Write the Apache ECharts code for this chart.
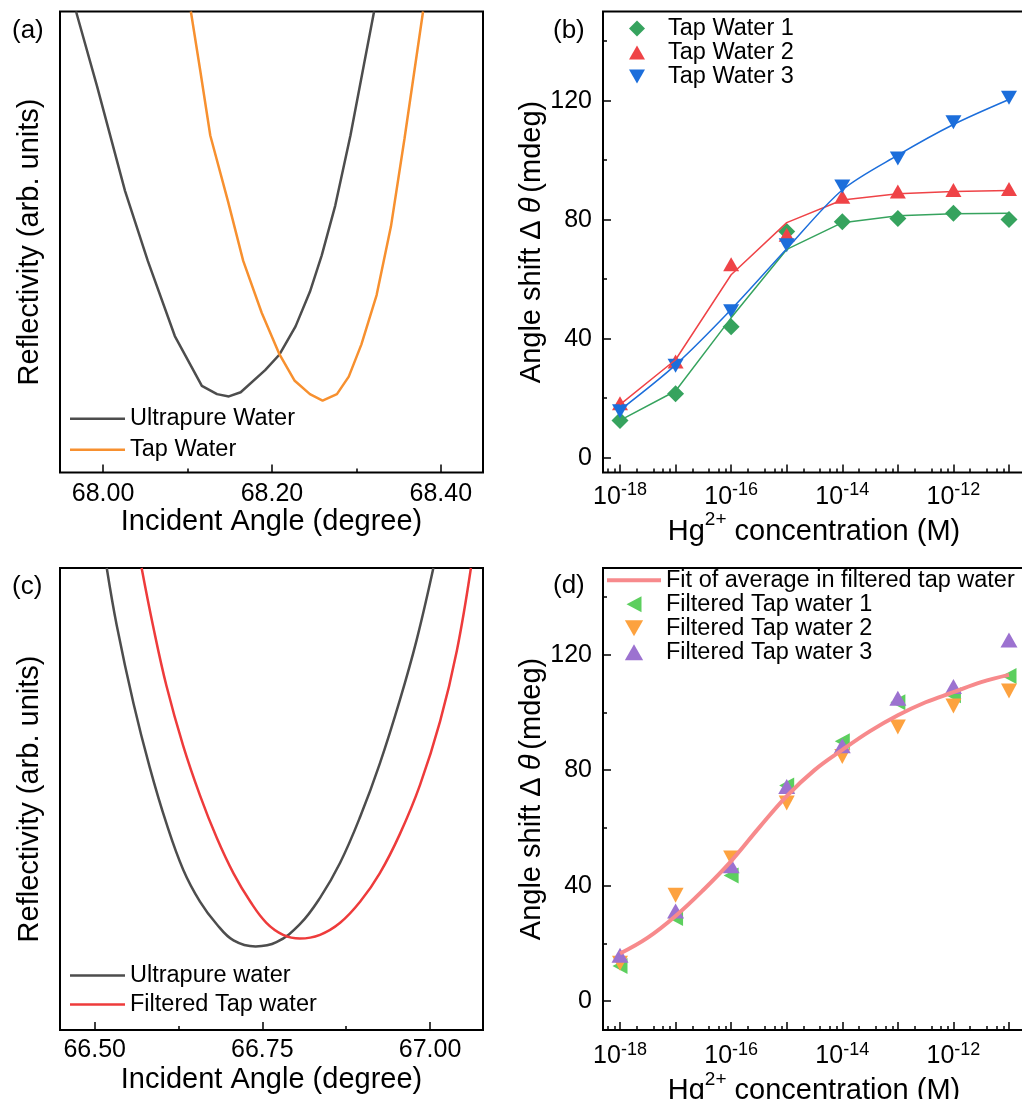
<!DOCTYPE html>
<html>
<head>
<meta charset="utf-8">
<script src="https://cdn.jsdelivr.net/npm/echarts@6/dist/echarts.min.js"></script>
<style>
  html, body { margin: 0; padding: 0; background: #ffffff; }
  #chart { width: 1022px; height: 1099px; }
</style>
</head>
<body>
<div id="chart"></div>
<script>
// ---------- (a) SPR curves: ultrapure vs tap water ----------
const ultrapureAngleA = [67.968, 67.993, 68.026, 68.053, 68.085, 68.117, 68.135, 68.149, 68.163, 68.192, 68.209, 68.228, 68.245, 68.259, 68.275, 68.293, 68.309, 68.321];
const ultrapureReflA  = [1.000, 0.837, 0.611, 0.459, 0.296, 0.188, 0.170, 0.165, 0.174, 0.222, 0.256, 0.317, 0.392, 0.471, 0.579, 0.731, 0.885, 1.000];
const tapAngleA = [68.104, 68.115, 68.127, 68.148, 68.166, 68.188, 68.209, 68.227, 68.245, 68.260, 68.277, 68.291, 68.306, 68.324, 68.341, 68.357, 68.379];
const tapReflA  = [1.000, 0.873, 0.731, 0.588, 0.459, 0.346, 0.256, 0.199, 0.170, 0.156, 0.170, 0.208, 0.278, 0.385, 0.534, 0.724, 1.000];
const angleTicksA = [68.0, 68.2, 68.4];
const angleMinorA = [68.1, 68.3];

// ---------- (b) angle shift vs Hg2+ concentration in tap water ----------
const concentrations = [1e-18, 1e-17, 1e-16, 1e-15, 1e-14, 1e-13, 1e-12, 1e-11];
const tapWater1 = [12.5, 21.5, 44.0, 76.0, 79.3, 80.4, 82.2, 80.1];
const tapWater2 = [18.3, 32.3, 65.0, 74.9, 87.7, 89.5, 90.0, 90.3];
const tapWater3 = [15.6, 30.9, 49.2, 71.4, 91.2, 100.6, 112.8, 121.0];
const tapWater1Fit = [12.5, 22.4, 47.0, 70.0, 79.0, 81.3, 82.0, 82.2];
const tapWater2Fit = [17.8, 32.9, 61.5, 79.0, 86.6, 88.7, 89.5, 89.8];
const tapWater3Fit = [16.0, 31.2, 49.8, 70.2, 90.0, 101.7, 112.0, 120.4];

// ---------- (c) SPR curves: ultrapure vs filtered tap water ----------
const ultrapureAngleC = [66.518, 66.533, 66.558, 66.582, 66.607, 66.632, 66.657, 66.682, 66.707, 66.740, 66.771, 66.806, 66.836, 66.866, 66.896, 66.925, 66.955, 66.980, 67.005];
const ultrapureReflC  = [1.000, 0.875, 0.706, 0.569, 0.447, 0.347, 0.278, 0.229, 0.194, 0.181, 0.190, 0.229, 0.286, 0.362, 0.462, 0.576, 0.714, 0.844, 1.000];
const filteredAngleC = [66.570, 66.587, 66.607, 66.632, 66.657, 66.682, 66.707, 66.732, 66.756, 66.781, 66.806, 66.836, 66.866, 66.896, 66.925, 66.955, 66.985, 67.015, 67.040, 67.061];
const filteredReflC  = [1.000, 0.875, 0.745, 0.615, 0.508, 0.416, 0.339, 0.278, 0.232, 0.206, 0.198, 0.206, 0.232, 0.278, 0.339, 0.424, 0.530, 0.668, 0.821, 1.000];
const angleTicksC = [66.5, 66.75, 67.0];
const angleMinorC = [66.625, 66.875];

// ---------- (d) angle shift vs Hg2+ concentration in filtered tap water ----------
const filteredTap1 = [12.2, 28.8, 43.5, 74.7, 90.0, 103.5, 105.9, 112.6];
const filteredTap2 = [13.1, 36.7, 49.6, 68.6, 84.7, 94.9, 102.2, 107.4];
const filteredTap3 = [15.9, 31.2, 46.9, 74.3, 88.4, 104.9, 109.0, 125.1];
const fitConcentrations = [1e-18, 3.16e-18, 1e-17, 3.16e-17, 1e-16, 3.16e-16, 1e-15, 3.16e-15, 1e-14, 3.16e-14, 1e-13, 3.16e-13, 1e-12, 3.16e-12, 1e-11];
const fitAverage = [16.5, 22.0, 29.5, 38.5, 48.5, 60.0, 71.0, 80.0, 87.0, 93.5, 99.0, 103.5, 107.0, 110.5, 113.0];

// shared tick values
const concLabelValues = [1e-18, 1e-16, 1e-14, 1e-12];
const shiftTicks = [0, 40, 80, 120];
const shiftMinor = [20, 60, 100, 140];

// ---------- styling ----------
const FONT = '"Liberation Sans", Arial, Helvetica, sans-serif';
const BLACK = '#000000';
const GRAY = '#4d4d4d';
const ORANGE = '#f7902f';
const RED_C = '#ee3b3b';
const GREEN_B = '#36a35e';
const RED_B = '#ef4347';
const BLUE_B = '#1c6edb';
const FIT_D = '#f78a8c';
const GREEN_D = '#5ccf5e';
const ORANGE_D = '#fda23f';
const PURPLE_D = '#9c72d0';

// legend glyphs (fixed aspect, centred in the legend item box)
const ICON_LINE = 'path://M0,0 L55,0 L55,2.5 L0,2.5 Z';
const ICON_FIT = 'path://M0,0 L54,0 L54,4 L0,4 Z';
const ICON_DIAMOND = 'path://M8,0 L16,8 L8,16 L0,8 Z';
const ICON_UP = 'path://M8,0 L16,14 L0,14 Z';
const ICON_DOWN = 'path://M0,0 L16,0 L8,14 Z';
const ICON_LEFT = 'path://M0,8 L15,0 L15,16 Z';

const concMin = Math.pow(10, -18.306);
const concMax = Math.pow(10, -10.712);
const concMinorValues = [];
for (let e = -19; e <= -11; e++) {
  [2, 4, 6, 8].forEach(m => concMinorValues.push(m * Math.pow(10, e)));
}

function pairs(xs, ys) { return xs.map((x, i) => [x, ys[i]]); }

const tickLine = { color: BLACK, width: 1.5 };
const LABEL_SIZE = 25;
const NAME_SIZE = 29;
const supRich = {
  b: { fontSize: LABEL_SIZE, lineHeight: 28, verticalAlign: 'bottom', fontFamily: FONT, color: BLACK },
  s: { fontSize: 18, lineHeight: 12, verticalAlign: 'top', fontFamily: FONT, color: BLACK }
};
const noLine = { show: false, onZero: false };

function angleAxis(grid, min, max, labels, margin) {
  return {
    type: 'value', gridIndex: grid, min: min, max: max, position: 'bottom',
    name: 'Incident Angle (degree)', nameLocation: 'middle', nameGap: 35,
    nameTextStyle: { fontSize: NAME_SIZE, fontFamily: FONT, color: BLACK },
    axisLine: noLine,
    splitLine: { show: false },
    axisTick: { show: true, inside: true, length: 8, lineStyle: tickLine, customValues: labels },
    axisLabel: { show: true, margin: margin, fontSize: LABEL_SIZE, fontFamily: FONT, color: BLACK,
                 customValues: labels, formatter: v => v.toFixed(2) }
  };
}
function minorAxis(grid, type, min, max, values, position) {
  return {
    type: type, gridIndex: grid, min: min, max: max, position: position,
    axisLine: noLine, splitLine: { show: false }, axisLabel: { show: false },
    axisTick: { show: true, inside: true, length: 4, lineStyle: tickLine, customValues: values }
  };
}
function concAxis(grid, margin, gap) {
  return {
    type: 'log', logBase: 10, gridIndex: grid, min: concMin, max: concMax, position: 'bottom',
    name: '{n|Hg}{p|2+}{n| concentration (M)}', nameLocation: 'middle', nameGap: gap,
    nameTextStyle: {
      fontSize: NAME_SIZE, fontFamily: FONT, color: BLACK,
      rich: {
        n: { fontSize: NAME_SIZE, lineHeight: 36, verticalAlign: 'bottom', fontFamily: FONT, color: BLACK },
        p: { fontSize: 19, lineHeight: 12, verticalAlign: 'top', fontFamily: FONT, color: BLACK }
      }
    },
    axisLine: noLine,
    splitLine: { show: false },
    axisTick: { show: true, inside: true, length: 8, lineStyle: tickLine, customValues: concentrations },
    axisLabel: {
      show: true, margin: margin, customValues: concLabelValues,
      formatter: v => '{b|10}{s|' + Math.round(Math.log10(v)) + '}',
      rich: supRich
    }
  };
}
function reflAxis(grid) {
  return {
    type: 'value', gridIndex: grid, min: 0, max: 1, position: 'left',
    name: 'Reflectivity (arb. units)', nameLocation: 'middle', nameGap: 16,
    nameTextStyle: { fontSize: NAME_SIZE, fontFamily: FONT, color: BLACK },
    axisLine: noLine, axisTick: { show: false }, axisLabel: { show: false }, splitLine: { show: false }
  };
}
function shiftAxis(grid, min, gap) {
  return {
    type: 'value', gridIndex: grid, min: min, max: 150, position: 'left',
    name: 'Angle shift Δ{t|θ}(mdeg)', nameLocation: 'middle', nameGap: gap,
    nameTextStyle: {
      fontSize: NAME_SIZE, fontFamily: FONT, color: BLACK,
      rich: { t: { fontSize: NAME_SIZE, fontStyle: 'italic', fontFamily: FONT, color: BLACK, padding: [0, 5, 0, 7] } }
    },
    axisLine: noLine, splitLine: { show: false },
    axisTick: { show: true, inside: true, length: 8, lineStyle: tickLine, customValues: shiftTicks },
    axisLabel: { show: true, margin: 11, fontSize: LABEL_SIZE, fontFamily: FONT, color: BLACK, customValues: shiftTicks }
  };
}
function gridBox(left, top, width, height) {
  return { left: left, top: top, width: width, height: height, show: true,
           borderColor: BLACK, borderWidth: 2, backgroundColor: 'transparent',
           containLabel: false, outerBoundsMode: 'none' };
}
function legendBox(left, top, gap, iw, items, textPad) {
  return {
    orient: 'vertical', left: left, top: top, padding: 0, itemGap: gap,
    itemWidth: iw, itemHeight: 16, selectedMode: false, symbolKeepAspect: true,
    data: items.map(it => ({ name: it[0], icon: it[1] })),
    textStyle: { fontSize: 23.5, lineHeight: 24, fontFamily: FONT, color: BLACK,
                 padding: [0, 0, 0, textPad || 0] }
  };
}
function panelTitle(text, left, top) {
  return { text: text, left: left, top: top, padding: 0,
           textStyle: { fontSize: 26, fontWeight: 'normal', fontFamily: FONT, color: BLACK } };
}

const option = {
  animation: false,
  backgroundColor: '#ffffff',
  title: [
    panelTitle('(a)', 12, 18),
    panelTitle('(b)', 553, 18),
    panelTitle('(c)', 12, 574),
    panelTitle('(d)', 553, 573)
  ],
  grid: [
    gridBox(60, 11.5, 423, 461),
    gridBox(603, 11.5, 422, 461),
    gridBox(60, 568, 423, 462),
    gridBox(603, 568, 422, 462)
  ],
  xAxis: [
    angleAxis(0, 67.949, 68.45, angleTicksA, 9),
    minorAxis(0, 'value', 67.949, 68.45, angleMinorA, 'bottom'),
    concAxis(1, 9, 29),
    minorAxis(1, 'log', concMin, concMax, concMinorValues, 'bottom'),
    angleAxis(2, 66.4483, 67.079, angleTicksC, 8),
    minorAxis(2, 'value', 66.4483, 67.079, angleMinorC, 'bottom'),
    concAxis(3, 11, 30),
    minorAxis(3, 'log', concMin, concMax, concMinorValues, 'bottom')
  ],
  yAxis: [
    reflAxis(0),
    shiftAxis(1, -5, 57),
    minorAxis(1, 'value', -5, 150, shiftMinor, 'left'),
    reflAxis(2),
    shiftAxis(3, -10, 56),
    minorAxis(3, 'value', -10, 150, shiftMinor, 'left')
  ],
  legend: [
    legendBox(70, 406.8, 7, 55, [['Ultrapure Water', ICON_LINE], ['Tap Water', ICON_LINE]]),
    legendBox(629, 16.5, 0, 16, [['Tap Water 1', ICON_DIAMOND], ['Tap Water 2', ICON_UP], ['Tap Water 3', ICON_DOWN]], 18),
    legendBox(70, 963.4, 5, 55, [['Ultrapure water', ICON_LINE], ['Filtered Tap water', ICON_LINE]]),
    legendBox(607, 568.3, 0, 54, [['Fit of average in filtered tap water', ICON_FIT], ['Filtered Tap water 1', ICON_LEFT],
                                 ['Filtered Tap water 2', ICON_DOWN], ['Filtered Tap water 3', ICON_UP]])
  ],
  series: [
    // (a)
    { type: 'line', name: 'Ultrapure Water', xAxisIndex: 0, yAxisIndex: 0, symbol: 'none',
      data: pairs(ultrapureAngleA, ultrapureReflA), lineStyle: { color: GRAY, width: 2.5 }, itemStyle: { color: GRAY } },
    { type: 'line', name: 'Tap Water', xAxisIndex: 0, yAxisIndex: 0, symbol: 'none',
      data: pairs(tapAngleA, tapReflA), lineStyle: { color: ORANGE, width: 2.5 }, itemStyle: { color: ORANGE } },
    // (b) fitted curves
    { type: 'line', name: 'Tap Water 1 fit', xAxisIndex: 2, yAxisIndex: 1, symbol: 'none',
      data: pairs(concentrations, tapWater1Fit), lineStyle: { color: GREEN_B, width: 1.5 }, itemStyle: { color: GREEN_B } },
    { type: 'line', name: 'Tap Water 2 fit', xAxisIndex: 2, yAxisIndex: 1, symbol: 'none',
      data: pairs(concentrations, tapWater2Fit), lineStyle: { color: RED_B, width: 1.5 }, itemStyle: { color: RED_B } },
    { type: 'line', name: 'Tap Water 3 fit', xAxisIndex: 2, yAxisIndex: 1, symbol: 'none', smooth: 0.3,
      data: pairs(concentrations, tapWater3Fit), lineStyle: { color: BLUE_B, width: 1.5 }, itemStyle: { color: BLUE_B } },
    // (b) measurements
    { type: 'scatter', name: 'Tap Water 1', xAxisIndex: 2, yAxisIndex: 1, symbol: 'diamond', symbolSize: 17,
      data: pairs(concentrations, tapWater1), itemStyle: { color: GREEN_B, opacity: 1 } },
    { type: 'scatter', name: 'Tap Water 2', xAxisIndex: 2, yAxisIndex: 1, symbol: 'triangle', symbolSize: [16, 14],
      data: pairs(concentrations, tapWater2), itemStyle: { color: RED_B, opacity: 1 } },
    { type: 'scatter', name: 'Tap Water 3', xAxisIndex: 2, yAxisIndex: 1, symbol: 'triangle', symbolSize: [16, 14], symbolRotate: 180,
      data: pairs(concentrations, tapWater3), itemStyle: { color: BLUE_B, opacity: 1 } },
    // (c)
    { type: 'line', name: 'Ultrapure water', xAxisIndex: 4, yAxisIndex: 3, symbol: 'none', smooth: 0.4,
      data: pairs(ultrapureAngleC, ultrapureReflC), lineStyle: { color: GRAY, width: 2.5 }, itemStyle: { color: GRAY } },
    { type: 'line', name: 'Filtered Tap water', xAxisIndex: 4, yAxisIndex: 3, symbol: 'none', smooth: 0.4,
      data: pairs(filteredAngleC, filteredReflC), lineStyle: { color: RED_C, width: 2.5 }, itemStyle: { color: RED_C } },
    // (d)
    { type: 'line', name: 'Fit of average in filtered tap water', xAxisIndex: 6, yAxisIndex: 4, symbol: 'none', smooth: 0.4,
      data: pairs(fitConcentrations, fitAverage), lineStyle: { color: FIT_D, width: 4 }, itemStyle: { color: FIT_D } },
    { type: 'scatter', name: 'Filtered Tap water 1', xAxisIndex: 6, yAxisIndex: 4, symbol: 'triangle', symbolSize: [16, 15], symbolRotate: 90,
      data: pairs(concentrations, filteredTap1), itemStyle: { color: GREEN_D, opacity: 1 } },
    { type: 'scatter', name: 'Filtered Tap water 2', xAxisIndex: 6, yAxisIndex: 4, symbol: 'triangle', symbolSize: [16, 15], symbolRotate: 180,
      data: pairs(concentrations, filteredTap2), itemStyle: { color: ORANGE_D, opacity: 1 } },
    { type: 'scatter', name: 'Filtered Tap water 3', xAxisIndex: 6, yAxisIndex: 4, symbol: 'triangle', symbolSize: [17, 15],
      data: pairs(concentrations, filteredTap3), itemStyle: { color: PURPLE_D, opacity: 1 } }
  ]
};

const chart = echarts.init(document.getElementById('chart'), null, { renderer: 'canvas' });
chart.setOption(option);
</script>
</body>
</html>
